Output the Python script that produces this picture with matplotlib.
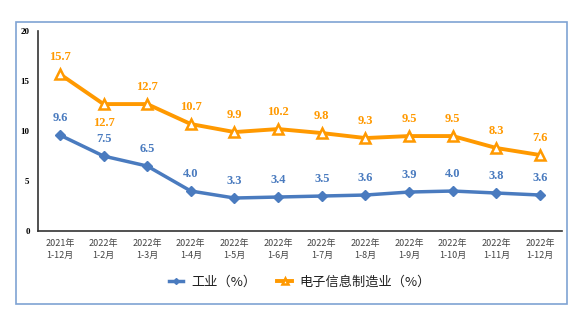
import matplotlib.pyplot as plt
from matplotlib.patches import Rectangle

periods = ['2021年\n1-12月', '2022年\n1-2月', '2022年\n1-3月', '2022年\n1-4月',
           '2022年\n1-5月', '2022年\n1-6月', '2022年\n1-7月', '2022年\n1-8月',
           '2022年\n1-9月', '2022年\n1-10月', '2022年\n1-11月', '2022年\n1-12月']
industry = [9.6, 7.5, 6.5, 4.0, 3.3, 3.4, 3.5, 3.6, 3.9, 4.0, 3.8, 3.6]
electronics = [15.7, 12.7, 12.7, 10.7, 9.9, 10.2, 9.8, 9.3, 9.5, 9.5, 8.3, 7.6]
yticks = [0, 5, 10, 15, 20]

blue = '#4a7bbf'
orange = '#ff9900'
cjk = ['Noto Sans CJK SC', 'DejaVu Sans']

fig = plt.figure(figsize=(5.82, 3.24), dpi=100)
fig.patches.append(Rectangle((0.0275, 0.062), 0.946, 0.870, transform=fig.transFigure,
                             fill=False, edgecolor='#7fa3d3', linewidth=1.2))
ax = fig.add_axes([0.0653, 0.287, 0.9003, 0.617])

x = list(range(len(periods)))
ax.plot(x, industry, color=blue, lw=2.5, marker='D', ms=5, label='工业（%）')
ax.plot(x, electronics, color=orange, lw=2.8, marker='^', ms=7.5, mfc='white',
        mec=orange, mew=1.8, label='电子信息制造业（%）')

for i, v in enumerate(industry):
    ax.annotate(f'{v:.1f}', (i, v), xytext=(0, 8), textcoords='offset points',
                ha='center', va='bottom', color=blue, fontsize=9,
                family='Liberation Serif', weight='bold')
for i, v in enumerate(electronics):
    off = -9 if i == 1 else 8
    ax.annotate(f'{v:.1f}', (i, v), xytext=(0, off), textcoords='offset points',
                ha='center', va='top' if off < 0 else 'bottom', color=orange, fontsize=9,
                family='Liberation Serif', weight='bold')

ax.set_xlim(-0.5, len(periods) - 0.5)
ax.set_ylim(0, 20)
ax.set_yticks(yticks)
ax.set_yticklabels([str(t) for t in yticks], family='Liberation Serif', weight='bold',
                   fontsize=6.5)
ax.set_xticks(x)
ax.set_xticklabels(periods, family=cjk, fontsize=6.5, color='#444444', linespacing=1.4)
ax.tick_params(length=0, pad=6)
for s in ['top', 'right']:
    ax.spines[s].set_visible(False)
for s in ['left', 'bottom']:
    ax.spines[s].set_color('#333333')
    ax.spines[s].set_linewidth(1.2)

leg = ax.legend(loc='upper center', bbox_to_anchor=(0.5, -0.165), ncol=2, frameon=False,
                prop={'family': cjk, 'size': 9.5}, handlelength=1.1, handletextpad=0.6,
                columnspacing=1.6, markerscale=0.6)
for t in leg.get_texts():
    t.set_color('#222222')

fig.savefig('out.png', dpi=100)
